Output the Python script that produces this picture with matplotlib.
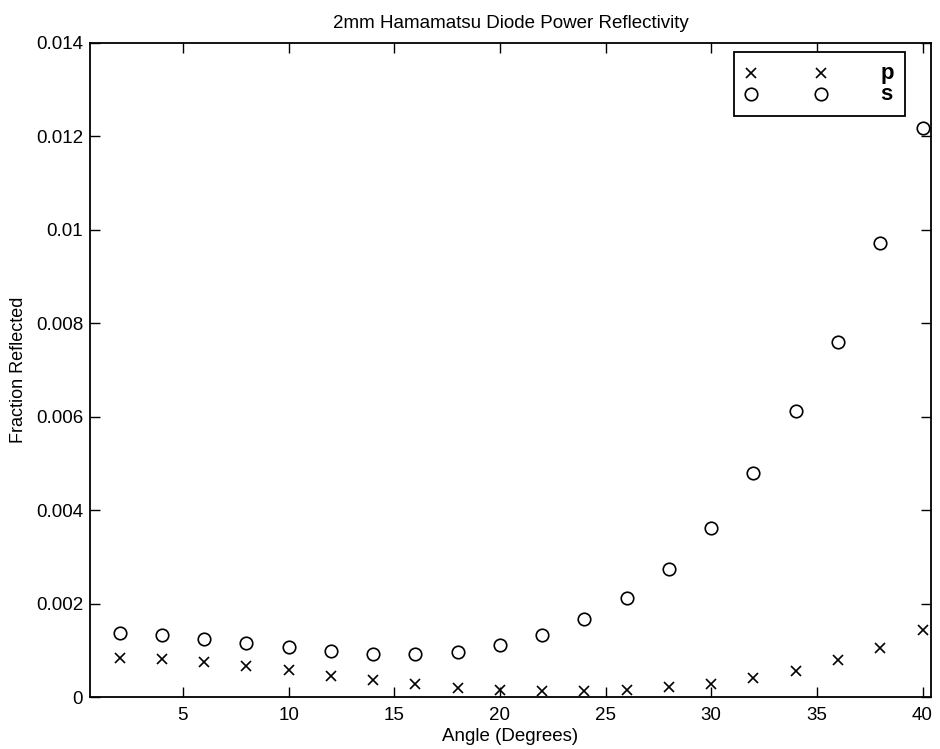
import matplotlib
matplotlib.use("Agg")
import matplotlib.pyplot as plt
from matplotlib.ticker import FixedLocator, FixedFormatter

plt.rcParams['font.family'] = ['Liberation Sans', 'DejaVu Sans']

angles = [2, 4, 6, 8, 10, 12, 14, 16, 18, 20, 22, 24, 26, 28, 30, 32, 34, 36, 38, 40]
p_vals = [0.00084, 0.00081, 0.00074, 0.00067, 0.00057, 0.00045, 0.00036, 0.00027,
          0.00019, 0.00015, 0.00013, 0.00013, 0.00016, 0.00021, 0.00028, 0.00040,
          0.00055, 0.00080, 0.00106, 0.00143]
s_vals = [0.00138, 0.00132, 0.00124, 0.00116, 0.00108, 0.00098, 0.00093, 0.00093,
          0.00096, 0.00111, 0.00132, 0.00166, 0.00212, 0.00275, 0.00362, 0.00480,
          0.00613, 0.00761, 0.00972, 0.01217]
xticks = [5, 10, 15, 20, 25, 30, 35, 40]
yticks = [0, 0.002, 0.004, 0.006, 0.008, 0.010, 0.012, 0.014]
ytick_labels = ['0', '0.002', '0.004', '0.006', '0.008', '0.01', '0.012', '0.014']

title = '2mm Hamamatsu Diode Power Reflectivity'
xlabel = 'Angle (Degrees)'
ylabel = 'Fraction Reflected'

fig = plt.figure(figsize=(9.4, 7.49), dpi=100)
ax = fig.add_axes([0.0957, 0.0694, 0.8947, 0.8732])

ax.plot(angles, p_vals, linestyle='none', marker='x', ms=7, mew=1.2,
        color='black', label='p')
ax.plot(angles, s_vals, linestyle='none', marker='o', ms=9, mew=1.2,
        mfc='none', mec='black', label='s')

ax.set_xlim(0.6, 40.4)
ax.set_ylim(0, 0.014)
ax.xaxis.set_major_locator(FixedLocator(xticks))
ax.xaxis.set_major_formatter(FixedFormatter([str(t) for t in xticks]))
ax.yaxis.set_major_locator(FixedLocator(yticks))
ax.yaxis.set_major_formatter(FixedFormatter(ytick_labels))

ax.tick_params(direction='in', length=7, width=1.0, labelsize=13.5,
               top=True, right=True, colors='black')
ax.tick_params(axis='x', pad=7)
ax.tick_params(axis='y', pad=5)
for sp in ax.spines.values():
    sp.set_linewidth(1.3)
    sp.set_color('black')

ax.set_title(title, fontsize=13.5, pad=11)
ax.set_xlabel(xlabel, fontsize=13.5, labelpad=3)
ax.set_ylabel(ylabel, fontsize=13, labelpad=6)

leg = ax.legend(loc='upper right', bbox_to_anchor=(0.969, 0.986), numpoints=2,
                handlelength=4.5, handletextpad=3.0, fontsize=13,
                labelspacing=0.0, borderpad=0.6, fancybox=False,
                framealpha=1, edgecolor='black', borderaxespad=0)
leg.get_frame().set_linewidth(1.3)
for t in leg.get_texts():
    t.set_fontsize(16)
    t.set_fontweight('bold')

fig.savefig('out.png', dpi=100)
